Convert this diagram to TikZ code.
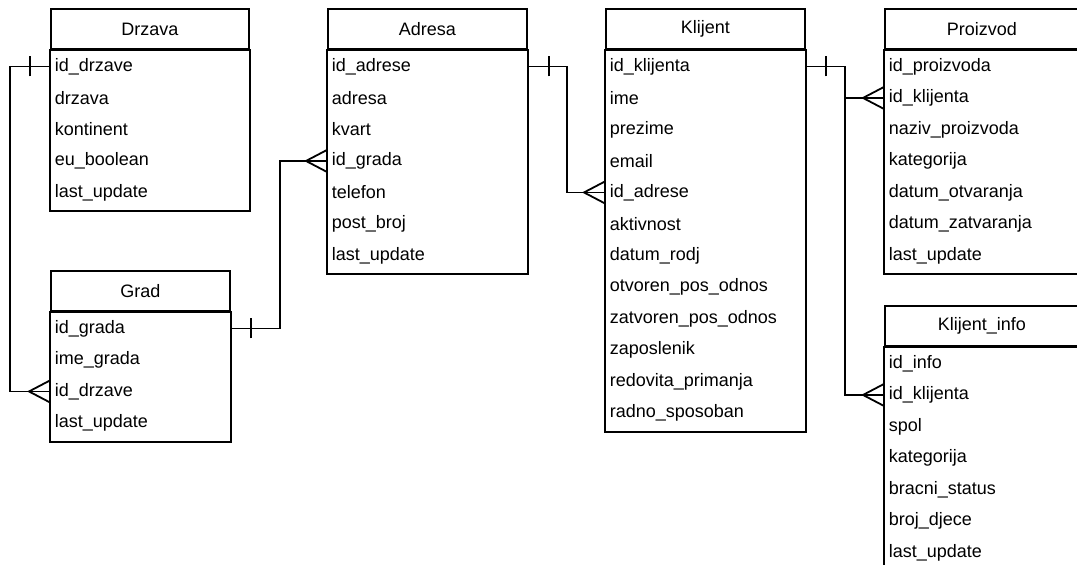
\documentclass[tikz,border=0pt]{standalone}
\usepackage{fontspec}
\setmainfont{Liberation Sans}
\usetikzlibrary{calc,positioning}

\tikzset{
  tabhead/.style={draw,anchor=north west,minimum height=40pt,inner sep=0pt,font=\fontsize{18}{21}\selectfont},
  tabrow/.style={anchor=north west,minimum height=31.5pt,inner xsep=4pt,inner ysep=0pt,align=left,font=\fontsize{18}{21}\selectfont},
}

% tablica: ime, x, y, sirina, naslov, broj redaka, redci
\newcommand{\tablica}[7]{%
  \node[tabhead,minimum width=#4pt] (#1) at (#2,#3) {#5};
  \pgfmathsetmacro{\sirina}{#4-8}
  \foreach \polje [count=\i] in {#7}
    \node[tabrow,text width=\sirina pt] (#1-\i) at ($(#1.south west)+(0,\i*31.5-31.5)$) {\polje};
  \draw (#1.south west) rectangle ($(#1-#6.south east)+(0,2)$);
}
% jedan (crtica) i vise (vranina noga)
\newcommand{\jedan}[2]{\draw ([xshift=#2,yshift=-10pt]#1) -- ([xshift=#2,yshift=10pt]#1);}
\newcommand{\vise}[1]{\draw ([yshift=11pt]#1) -- ([xshift=-21pt]#1) -- ([yshift=-11pt]#1);}

\begin{document}
\begin{tikzpicture}[x=1pt,y=-1pt,line width=1.8pt]

  \useasboundingbox (0,0) rectangle (1077,565);
  \fill[white] (0,0) rectangle (1077,565);
  \clip (0,0) rectangle (1077,565);

  \tablica{drzava}{50}{8}{198}{Drzava}{5}{id\_drzave,drzava,kontinent,eu\_boolean,last\_update}
  \tablica{grad}{50}{270}{179}{Grad}{4}{id\_grada,ime\_grada,id\_drzave,last\_update}
  \tablica{adresa}{327}{8}{199}{Adresa}{7}{id\_adrese,adresa,kvart,id\_grada,telefon,post\_broj,last\_update}
  \tablica{klijent}{605}{8}{199}{Klijent}{12}{id\_klijenta,ime,prezime,email,id\_adrese,aktivnost,datum\_rodj,otvoren\_pos\_odnos,zatvoren\_pos\_odnos,zaposlenik,redovita\_primanja,radno\_sposoban}
  \tablica{proizvod}{884}{8}{194}{Proizvod}{7}{id\_proizvoda,id\_klijenta,naziv\_proizvoda,kategorija,datum\_otvaranja,datum\_zatvaranja,last\_update}
  \tablica{info}{884}{305}{194}{Klijent\_info}{7}{id\_info,id\_klijenta,spol,kategorija,bracni\_status,broj\_djece,last\_update}

  \draw (drzava-1.west) -- ++(-40,0) |- (grad-3.west); % drzava - grad
  \jedan{drzava-1.west}{-20pt}
  \vise{grad-3.west}

  \draw (grad-1.east) -- ++(49,0) |- (adresa-4.west); % grad - adresa
  \jedan{grad-1.east}{20pt}
  \vise{adresa-4.west}

  \draw (adresa-1.east) -- ++(39,0) |- (klijent-5.west); % adresa - klijent
  \jedan{adresa-1.east}{21pt}
  \vise{klijent-5.west}

  \coordinate (grana) at ([xshift=39pt]klijent-1.east);
  \draw (klijent-1.east) -- (grana) |- (proizvod-2.west); % klijent - proizvod
  \draw (grana) |- (info-2.west); % klijent - klijent_info
  \jedan{klijent-1.east}{20pt}
  \vise{proizvod-2.west}
  \vise{info-2.west}

\end{tikzpicture}
\end{document}
